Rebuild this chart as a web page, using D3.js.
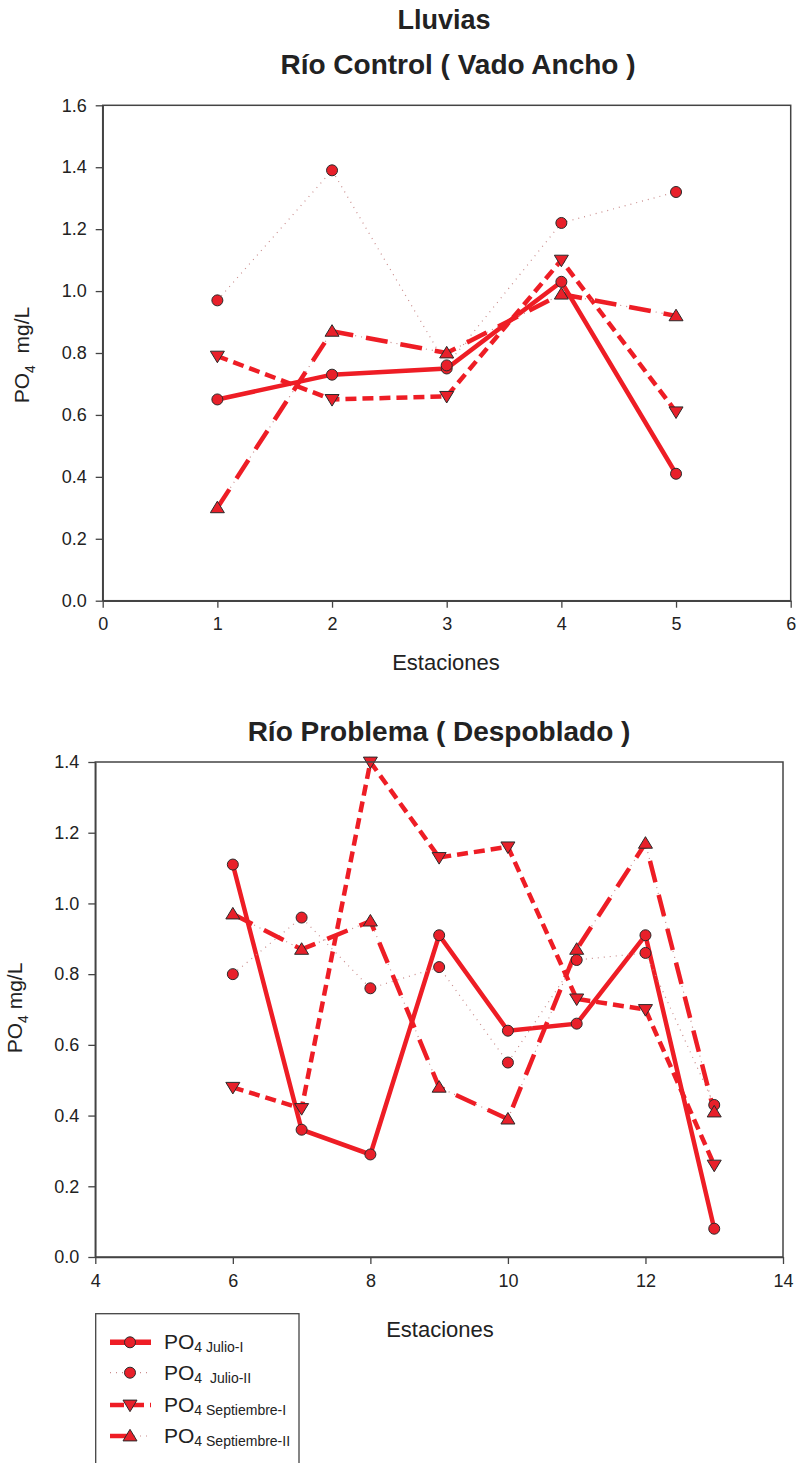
<!DOCTYPE html>
<html>
<head>
<meta charset="utf-8">
<script src="https://cdn.jsdelivr.net/npm/d3@7"></script>
<style>
  html, body { margin: 0; padding: 0; background: #fff; }
  svg { display: block; font-family: "Liberation Sans", Arial, sans-serif; }
  text { white-space: pre; }
</style>
</head>
<body>
<svg id="chart" width="799" height="1463"></svg>
<script>
// Stations (x) for each river
const stationsControl = [1, 2, 3, 4, 5];
const stationsProblema = [6, 7, 8, 9, 10, 11, 12, 13];

// PO4 (mg/L) – Río Control (Vado Ancho)
const controlJulioI = [0.65, 0.73, 0.75, 1.03, 0.41];
const controlJulioII = [0.97, 1.39, 0.76, 1.22, 1.32];
const controlSeptI = [0.79, 0.65, 0.66, 1.10, 0.61];
const controlSeptII = [0.30, 0.87, 0.80, 0.99, 0.92];

// PO4 (mg/L) – Río Problema (Despoblado)
const problemaJulioI = [1.11, 0.36, 0.29, 0.91, 0.64, 0.66, 0.91, 0.08];
const problemaJulioII = [0.80, 0.96, 0.76, 0.82, 0.55, 0.84, 0.86, 0.43];
const problemaSeptI = [0.48, 0.42, 1.40, 1.13, 1.16, 0.73, 0.70, 0.26];
const problemaSeptII = [0.97, 0.87, 0.95, 0.48, 0.39, 0.87, 1.17, 0.41];

// Axis ticks
const controlXTicks = [0, 1, 2, 3, 4, 5, 6];
const controlYTicks = [0, 0.2, 0.4, 0.6, 0.8, 1.0, 1.2, 1.4, 1.6];
const problemaXTicks = [4, 6, 8, 10, 12, 14];
const problemaYTicks = [0, 0.2, 0.4, 0.6, 0.8, 1.0, 1.2, 1.4];

// Series names for the legend
const seriesNames = ["Julio-I", " Julio-II", "Septiembre-I", "Septiembre-II"];

const RED = "#ee1d25";
const MARK = "#e8202a";
const AXIS = "#444";

const svg = d3.select("#chart");

// Line style definitions per series
const styles = [
  { marker: "circle", layers: [{ w: 4.5, dash: null, color: RED }] },
  { marker: "circle", layers: [{ w: 1.2, dash: "1,5", color: "#c98c8c" }] },
  { marker: "down", layers: [{ w: 4.5, dash: "11,6", color: RED }] },
  { marker: "up", layers: [{ w: 1.2, dash: "1,5", color: "#c98c8c" }, { w: 4.5, dash: "22,13", color: RED }] }
];

function markerPath(type) {
  if (type === "circle") return d3.symbol(d3.symbolCircle, 95)();
  const s = 7;
  if (type === "down") return `M${-s},${-s * 0.7}L${s},${-s * 0.7}L0,${s * 0.95}Z`;
  return `M${-s},${s * 0.7}L${s},${s * 0.7}L0,${-s * 0.95}Z`;
}

function drawPanel(opts) {
  const { x0, x1, y0, y1, xDomain, yDomain, xTicks, yTicks, stations, series } = opts;
  const x = d3.scaleLinear().domain(xDomain).range([x0, x1]);
  const y = d3.scaleLinear().domain(yDomain).range([y1, y0]);
  const g = svg.append("g");

  // series lines and markers
  series.forEach((vals, i) => {
    const pts = stations.map((s, k) => [s, vals[k]]);
    const line = d3.line().x(d => x(d[0])).y(d => y(d[1]));
    styles[i].layers.forEach(l => {
      g.append("path").attr("d", line(pts)).attr("fill", "none")
        .attr("stroke", l.color).attr("stroke-width", l.w)
        .attr("stroke-dasharray", l.dash);
    });
  });
  series.forEach((vals, i) => {
    g.selectAll(null).data(stations.map((s, k) => [s, vals[k]])).enter()
      .append("path")
      .attr("d", markerPath(styles[i].marker))
      .attr("transform", d => `translate(${x(d[0])},${y(d[1])})`)
      .attr("fill", MARK).attr("stroke", "#2a2a2a").attr("stroke-width", 1);
  });

  // frame
  g.append("rect").attr("x", x0).attr("y", y0).attr("width", x1 - x0).attr("height", y1 - y0)
    .attr("fill", "none").attr("stroke", AXIS).attr("stroke-width", 1.5);

  const xAxis = g.append("g").attr("transform", `translate(0,${y1})`)
    .call(d3.axisBottom(x).tickValues(xTicks).tickFormat(d3.format("d")).tickSize(7).tickSizeOuter(0).tickPadding(10));
  const yAxis = g.append("g").attr("transform", `translate(${x0},0)`)
    .call(d3.axisLeft(y).tickValues(yTicks).tickFormat(d3.format(".1f")).tickSize(7).tickSizeOuter(0).tickPadding(9));
  [xAxis, yAxis].forEach(a => {
    a.select(".domain").attr("stroke", AXIS).attr("stroke-width", 1.5);
    a.selectAll(".tick line").attr("stroke", AXIS).attr("stroke-width", 1.3);
    a.selectAll(".tick text").attr("fill", "#222").style("font-size", "18px")
      .style("font-family", "'Liberation Sans', Arial, sans-serif");
  });
  return { x, y };
}

function title(txt, cx, cy, size) {
  svg.append("text").attr("x", cx).attr("y", cy).attr("text-anchor", "middle")
    .style("font-weight", "bold").style("font-size", size + "px").attr("fill", "#222").text(txt);
}

function yLabel(cx, cy, gap) {
  const t = svg.append("text").attr("transform", `translate(${cx},${cy}) rotate(-90)`)
    .attr("text-anchor", "middle").style("font-size", "21px").attr("fill", "#222");
  t.append("tspan").text("PO");
  t.append("tspan").attr("dy", 6).style("font-size", "14px").text("4");
  t.append("tspan").attr("dy", -6).text(gap + "mg/L");
}

function xLabel(cx, cy) {
  svg.append("text").attr("x", cx).attr("y", cy).attr("text-anchor", "middle")
    .style("font-size", "22px").attr("fill", "#222").text("Estaciones");
}

// Titles
title("Lluvias", 444, 29, 27);
title("Río Control ( Vado Ancho )", 458, 74, 28);
title("Río Problema ( Despoblado )", 439, 741, 28);

// Upper panel
drawPanel({
  x0: 102.7, x1: 790.7, y0: 105.3, y1: 600.7,
  xDomain: [0, 6], yDomain: [0, 1.6],
  xTicks: controlXTicks, yTicks: controlYTicks,
  stations: stationsControl,
  series: [controlJulioI, controlJulioII, controlSeptI, controlSeptII]
});
yLabel(29, 355, "  ");
xLabel(446, 670);

// Lower panel
drawPanel({
  x0: 95.3, x1: 783, y0: 762, y1: 1257,
  xDomain: [4, 14], yDomain: [0, 1.4],
  xTicks: problemaXTicks, yTicks: problemaYTicks,
  stations: stationsProblema,
  series: [problemaJulioI, problemaJulioII, problemaSeptI, problemaSeptII]
});
yLabel(22, 1008, " ");
xLabel(440, 1337);

// Legend
const lg = svg.append("g");
lg.append("rect").attr("x", 95.7).attr("y", 1313.7).attr("width", 203.3).attr("height", 160)
  .attr("fill", "#fff").attr("stroke", "#444").attr("stroke-width", 1.3);
const rowY = [1342.3, 1372.7, 1405, 1436];
seriesNames.forEach((name, i) => {
  const yy = rowY[i];
  const row = lg.append("g");
  styles[i].layers.forEach(l => {
    row.append("line").attr("x1", 110).attr("x2", 151).attr("y1", yy).attr("y2", yy)
      .attr("stroke", l.color).attr("stroke-width", l.w + (i === 0 ? 1 : 0))
      .attr("stroke-dasharray", i === 3 && l.w > 2 ? "18,40" : (i === 2 ? "14,6" : l.dash));
  });
  row.append("path").attr("d", markerPath(styles[i].marker))
    .attr("transform", `translate(130,${yy})`)
    .attr("fill", MARK).attr("stroke", "#2a2a2a").attr("stroke-width", 1);
  const t = row.append("text").attr("x", 164).attr("y", yy + 7)
    .style("font-size", "21px").attr("fill", "#222");
  t.append("tspan").text("PO");
  t.append("tspan").attr("dy", 3).style("font-size", "14px").text("4 " + name);
});
</script>
</body>
</html>
